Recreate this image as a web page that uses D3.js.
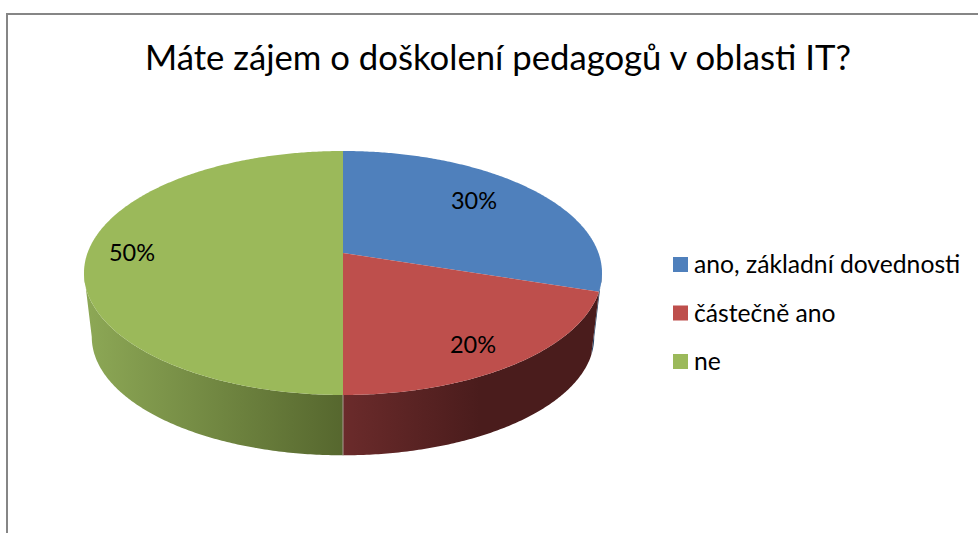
<!DOCTYPE html>
<html>
<head>
<meta charset="utf-8">
<script src="https://cdn.jsdelivr.net/npm/d3@7"></script>
<style>
html, body { margin: 0; padding: 0; background: #fff; overflow: hidden; }
text { font-family: Lato, "Open Sans", sans-serif; fill: #000; }
</style>
</head>
<body>
<div id="chart"></div>
<script>
// chart data
var titleText = "Máte zájem o doškolení pedagogů v oblasti IT?";
var categories = ["ano, základní dovednosti", "částečně ano", "ne"];
var values = [30, 20, 50];
var sliceColors = ["#4f80bc", "#be4f4c", "#9bb95a"];
var sideFrom = ["#2c4a70", "#6b2b2b", "#8ca755"];
var sideTo = ["#223a58", "#4a1c1c", "#56672e"];

var width = 978, height = 533;

var svg = d3.select("#chart").append("svg")
	.attr("width", width)
	.attr("height", height);

var defs = svg.append("defs");

// frame, open at right and bottom because the screenshot is cropped there
svg.append("path")
	.attr("d", "M7,533V14H978")
	.attr("fill", "none")
	.attr("stroke", "#868686")
	.attr("stroke-width", 2);

svg.append("text")
	.attr("x", 498)
	.attr("y", 70)
	.attr("text-anchor", "middle")
	.style("font-size", "34.7px")
	.text(titleText);

//
// pie angles, and a small perspective projection of the disc
//
var pie = d3.pie().sort(null).startAngle(0).endAngle(2 * Math.PI);
var arcs = pie(values);
var total = d3.sum(values);

var cx = 343, persp = -0.1639;

function project(angle, layer) {
	var X = Math.sin(angle), Y = -Math.cos(angle), w = 1 + persp * Y;
	var px = 255.5 * X / w;
	var py = (253 + 77.25 * Y) / w;
	if (layer == 0) return [cx + px, py];
	// lower rim is a bit smaller and 60px down
	return [cx + 0.97 * px, 337 + 0.97 * (py - 273)];
}

function curve(a0, a1, layer) {
	var pts = [], n = Math.max(2, Math.ceil(Math.abs(a1 - a0) / 0.01));
	for (var i = 0; i <= n; i++) pts.push(project(a0 + (a1 - a0) * i / n, layer));
	return pts;
}

var line = d3.line();

//
// side wall, from widest point to widest point of the projected disc
//
var sideStart = Math.acos(persp), sideEnd = 2 * Math.PI - sideStart;

var sides = svg.append("g");

arcs.forEach(function(d, i) {
	var a0 = Math.max(d.startAngle, sideStart), a1 = Math.min(d.endAngle, sideEnd);
	if (a1 <= a0) return;
	var top = curve(a0, a1, 0), bottom = curve(a1, a0, 1);
	// shading runs across x, darkest next to the seam on the green part
	var gx = [[590, 600], [343, 480], [90, 343]][i];
	var grad = defs.append("linearGradient")
		.attr("id", "side" + i)
		.attr("gradientUnits", "userSpaceOnUse")
		.attr("x1", gx[0]).attr("x2", gx[1])
		.attr("y1", 0).attr("y2", 0);
	grad.append("stop").attr("offset", 0).attr("stop-color", sideFrom[i]);
	grad.append("stop").attr("offset", 1).attr("stop-color", sideTo[i]);
	sides.append("path")
		.attr("d", line(top.concat(bottom)) + "Z")
		.attr("fill", "url(#side" + i + ")");
});

// seam on the rim where red meets green
var seamAngle = arcs[2].startAngle;
sides.append("path")
	.attr("d", line([project(seamAngle, 0), project(seamAngle, 1)]))
	.attr("stroke", "#a89c92")
	.attr("stroke-width", 1);

//
// top face
//
var faces = svg.append("g");
arcs.forEach(function(d, i) {
	var pts = [[cx, 253]].concat(curve(d.startAngle, d.endAngle, 0));
	faces.append("path")
		.attr("d", line(pts) + "Z")
		.attr("fill", sliceColors[i]);
});

//
// percent labels
//
var labelPos = [[474, 201], [473, 345], [132, 253]];
svg.selectAll(".pct")
	.data(arcs)
	.enter().append("text")
	.attr("class", "pct")
	.attr("x", function(d, i) { return labelPos[i][0]; })
	.attr("y", function(d, i) { return labelPos[i][1]; })
	.attr("dy", ".35em")
	.attr("text-anchor", "middle")
	.style("font-size", "23.5px")
	.text(function(d) { return d3.format(".0%")(d.value / total); });

//
// legend
//
var legend = svg.selectAll(".legend")
	.data(categories)
	.enter().append("g")
	.attr("class", "legend")
	.attr("transform", function(d, i) { return "translate(673," + (257 + i * 48.5) + ")"; });

legend.append("rect")
	.attr("width", 15)
	.attr("height", 15)
	.style("fill", function(d, i) { return sliceColors[i]; });

legend.append("text")
	.attr("x", 21)
	.attr("y", 16)
	.style("font-size", "24.7px")
	.text(function(d) { return d; });
</script>
</body>
</html>
